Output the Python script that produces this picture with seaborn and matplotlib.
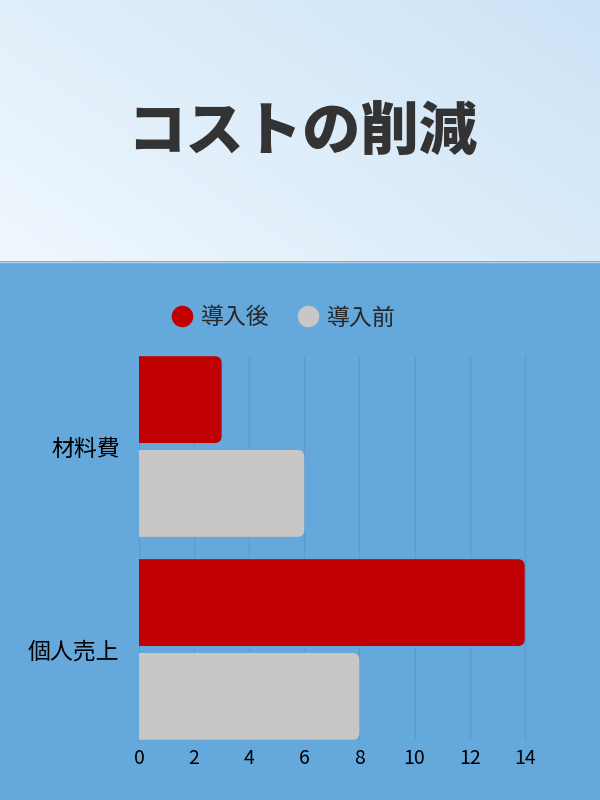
import numpy as np
import pandas as pd
import matplotlib
matplotlib.use("Agg")
import matplotlib.pyplot as plt
from matplotlib.patches import FancyBboxPatch
from matplotlib.lines import Line2D
import seaborn as sns

categories = ["材料費", "個人売上"]
series_names = ["導入後", "導入前"]
after_values = [3, 14]
before_values = [6, 8]
x_ticks = [0, 2, 4, 6, 8, 10, 12, 14]
title_text = "コストの削減"

RED = "#C00000"
GRAY = "#C9C6C6"
BLUE = "#65A8DC"

sns.set_theme(style="white")
plt.rcParams["font.family"] = ["Noto Sans CJK JP", "DejaVu Sans"]

df = pd.DataFrame({
    "category": categories * 2,
    "series": [series_names[0]] * len(categories) + [series_names[1]] * len(categories),
    "value": after_values + before_values,
})

W, H = 600, 800
fig = plt.figure(figsize=(W / 100, H / 100), dpi=100)

# background
bg = fig.add_axes([0, 0, 1, 1], zorder=-10)
bg.set_axis_off()
bg.set_xlim(0, W)
bg.set_ylim(H, 0)
yy, xx = np.mgrid[0:261, 0:W]
t = (xx / W) * 0.55 + (1 - yy / 261) * 0.35
c1 = np.array([0.94, 0.97, 0.995])
c2 = np.array([0.78, 0.88, 0.96])
img = c1[None, None, :] * (1 - t[..., None]) + c2[None, None, :] * t[..., None]
bg.imshow(img, extent=[0, W, 261, 0], aspect="auto", zorder=0)
bg.add_patch(plt.Rectangle((0, 261), W, H - 261, color=BLUE, zorder=1, lw=0))
bg.plot([0, W], [261.5, 261.5], color="#B4D2EC", lw=1.0, zorder=2)
bg.text(302, 134, title_text, ha="center", va="center", fontsize=42,
        fontweight="black", color="#333333", zorder=3)

# chart
left, right = 139, 533
top, bottom = 356, 740
ax = fig.add_axes([left / W, 1 - bottom / H, (right - left) / W, (bottom - top) / H])
ax.patch.set_alpha(0)

sx = (right - left) / 14.3
sy = (bottom - top) / 1.892
gap = 3.5 / sy

sns.barplot(data=df, y="category", x="value", hue="series", orient="h",
            palette=[RED, GRAY], saturation=1, width=0.89 + 2 * gap,
            ax=ax, legend=False, zorder=3)

ax.set_xlim(0, 14.3)
ax.set_ylim(1.446, -0.446)

rad_px = 7
for p in list(ax.patches):
    x0, y0 = p.get_x(), p.get_y()
    w, h = p.get_width(), p.get_height()
    fc = p.get_facecolor()
    p.remove()
    ext = 1.0
    box = FancyBboxPatch((x0 - ext, y0 + gap), w + ext, h - 2 * gap,
                         boxstyle=f"round,pad=0,rounding_size={rad_px / sx}",
                         mutation_aspect=sx / sy,
                         facecolor=fc, edgecolor="none", zorder=3)
    ax.add_patch(box)

ax.set_xticks(x_ticks)
ax.set_xticklabels([str(v) for v in x_ticks], fontsize=14, color="black")
ax.tick_params(axis="x", length=0, pad=6)
ax.tick_params(axis="y", length=0, pad=14, labelsize=16.5, labelcolor="black")
ax.grid(axis="x", color="#5C9BCF", lw=0.9, zorder=0)
ax.grid(axis="y", visible=False)
for s in ax.spines.values():
    s.set_visible(False)
ax.set_xlabel("")
ax.set_ylabel("")

# legend
handles = [Line2D([0], [0], marker="o", ls="", markersize=15.5, markerfacecolor=RED, markeredgecolor="none"),
           Line2D([0], [0], marker="o", ls="", markersize=15.5, markerfacecolor=GRAY, markeredgecolor="none")]
fig.legend(handles, series_names, loc="center", bbox_to_anchor=(283 / W, 1 - 318 / H),
           ncol=2, frameon=False, fontsize=16.5, handletextpad=0.3, columnspacing=1.2,
           handlelength=1.0)

fig.savefig("out.png", dpi=100)
